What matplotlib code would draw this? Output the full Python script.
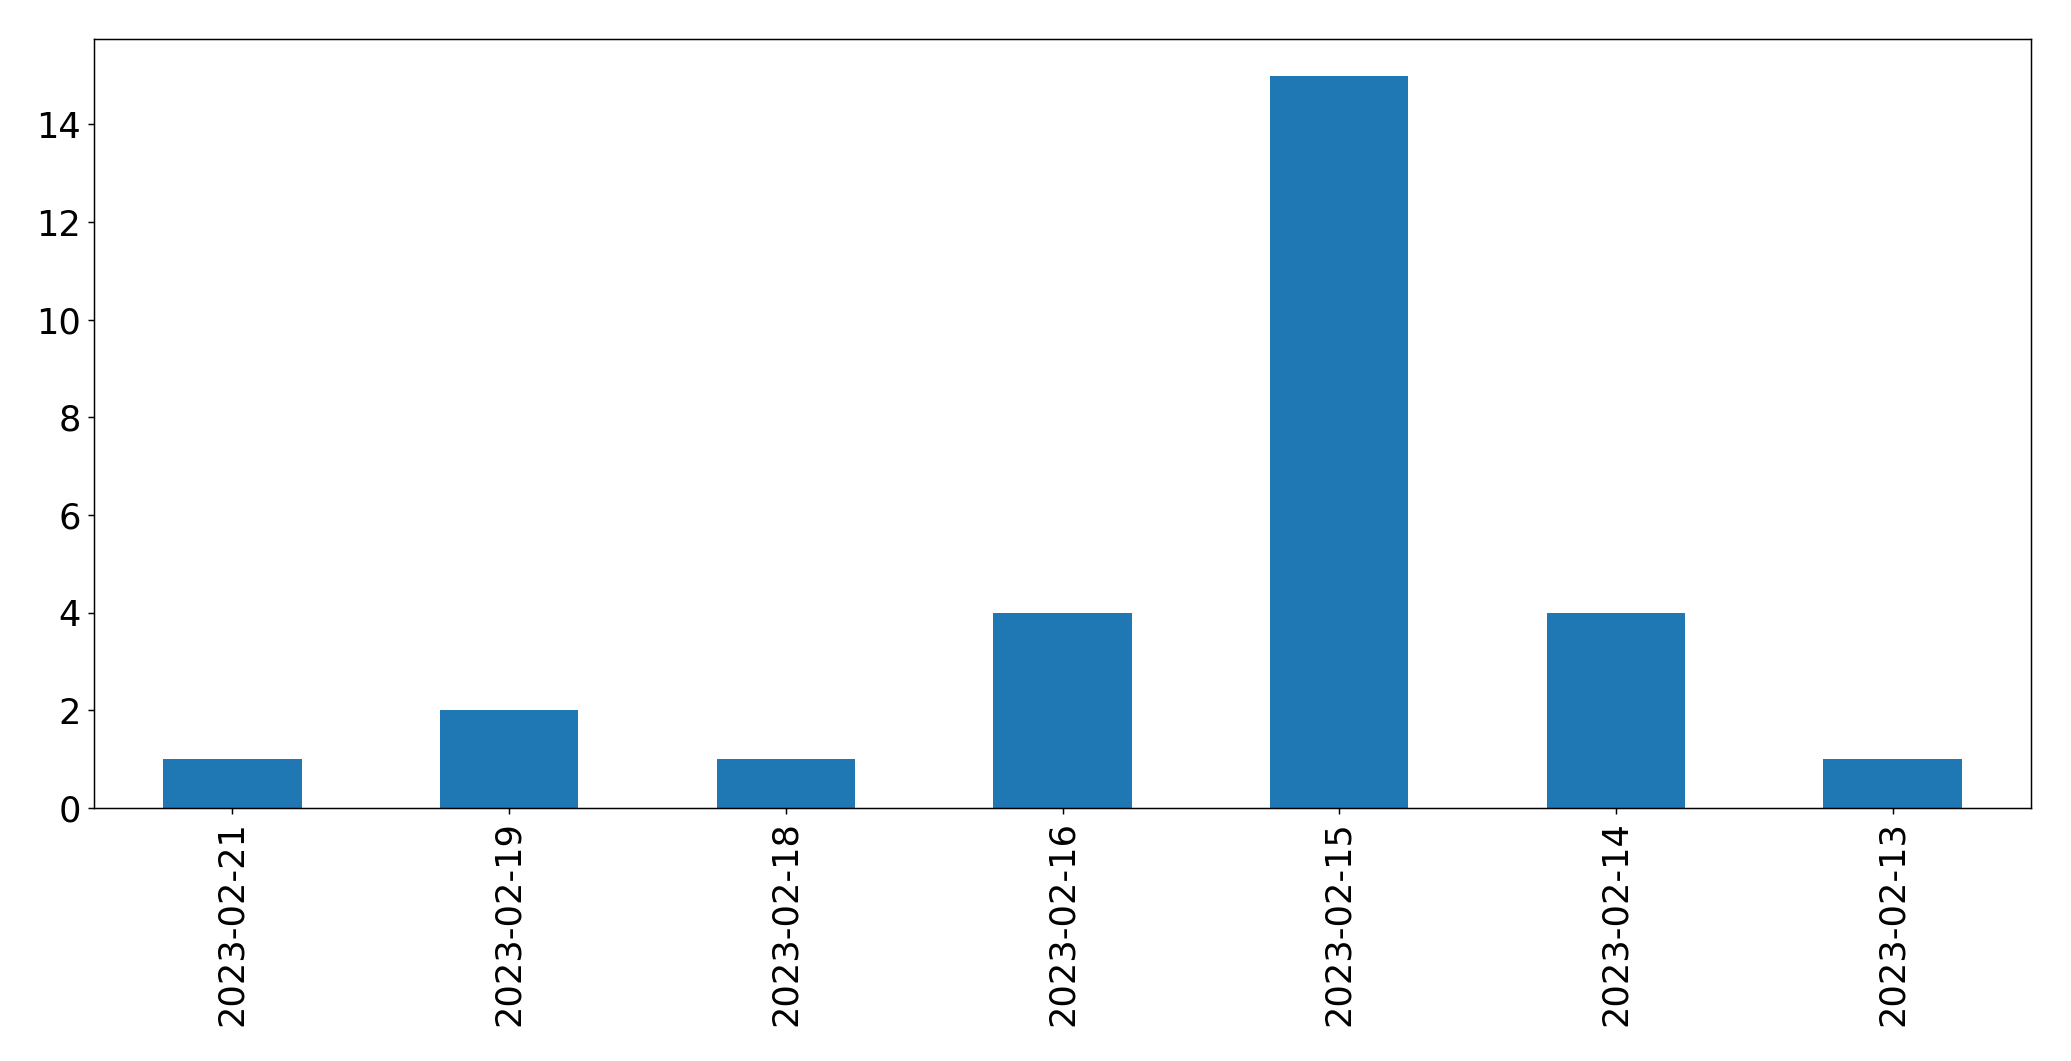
import matplotlib
matplotlib.use('Agg')
import matplotlib.pyplot as plt
import numpy as np

# counts per date (order as in the chart)
dates = ['2023-02-21', '2023-02-19', '2023-02-18', '2023-02-16',
         '2023-02-15', '2023-02-14', '2023-02-13']
counts = [1, 2, 1, 4, 15, 4, 1]

dpi = 400 / 3
fig = plt.figure(figsize=(2071 / dpi, 1061 / dpi), dpi=dpi)
ax = fig.add_axes([94 / 2071, 1 - 808 / 1061, (2031 - 94) / 2071, (808 - 39) / 1061])

x = np.arange(len(dates))
ax.bar(x, counts, width=0.5, color='#1f77b4')
ax.set_xlim(-0.5, len(dates) - 0.5)
ax.set_ylim(0, 15.75)
ax.set_xticks(x)
ax.set_xticklabels(dates, rotation=90)
ax.tick_params(labelsize=19)

fig.savefig('out.png', dpi=dpi)
